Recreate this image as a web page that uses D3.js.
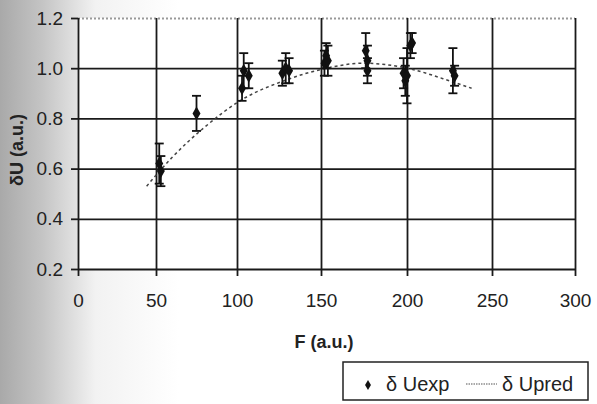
<!DOCTYPE html>
<meta charset="utf-8">
<style>

body {
  margin: 0;
  font-family: "Liberation Sans", Arial, sans-serif;
}

.grid line {
  stroke: #1a1a1a;
  stroke-width: 1.8;
}

.grid .domain {
  display: none;
}

.axis text {
  font-size: 19px;
  fill: #222;
}

.axis .domain {
  display: none;
}

.axis line {
  stroke: #1a1a1a;
  stroke-width: 1.8;
}

.errbar {
  stroke: #111;
  stroke-width: 1.8;
}

.pred {
  fill: none;
  stroke: #444;
  stroke-width: 1.5;
  stroke-dasharray: 3,3;
}

.title {
  font-size: 18px;
  font-weight: bold;
  fill: #222;
}

</style>
<body>
<script src="https://d3js.org/d3.v7.min.js"></script>
<script>

// experimental points: F, dU, error
var expF   = [52, 53, 75, 103, 104, 107, 127, 129, 131, 152, 153, 154, 176, 177, 177, 198, 199, 200, 202, 203, 227, 228];
var expU   = [0.62, 0.59, 0.82, 0.92, 0.99, 0.97, 0.98, 1.00, 0.99, 1.02, 1.05, 1.03, 1.07, 1.03, 0.99, 0.98, 0.95, 0.97, 1.09, 1.10, 0.99, 0.97];
var expErr = [0.08, 0.06, 0.07, 0.05, 0.07, 0.05, 0.05, 0.06, 0.05, 0.05, 0.05, 0.06, 0.07, 0.06, 0.05, 0.06, 0.06, 0.11, 0.05, 0.04, 0.09, 0.04];

// predicted curve
var predF = [44, 60, 80, 103, 128, 150, 175, 200, 227, 238];
var predU = [0.53, 0.645, 0.765, 0.875, 0.95, 0.995, 1.02, 1.0, 0.945, 0.92];

var xTicks = [0, 50, 100, 150, 200, 250, 300];
var yTicks = [0.2, 0.4, 0.6, 0.8, 1.0, 1.2];

var W = 597, H = 404;
var plotLeft = 78, plotRight = 575, plotTop = 18, plotBottom = 269;

var svg = d3.select("body").append("svg")
    .attr("width", W)
    .attr("height", H);

// scanned paper shading on the left
var grad = svg.append("defs").append("linearGradient")
    .attr("id", "shade")
    .attr("x1", "0").attr("x2", "1").attr("y1", "0").attr("y2", "0");
grad.append("stop").attr("offset", "0").attr("stop-color", "#a9a9a9");
grad.append("stop").attr("offset", "0.07").attr("stop-color", "#c4c4c4");
grad.append("stop").attr("offset", "0.16").attr("stop-color", "#f2f2f2");
grad.append("stop").attr("offset", "0.3").attr("stop-color", "#ffffff");

svg.append("rect")
    .attr("width", W)
    .attr("height", H)
    .attr("fill", "url(#shade)");

// scan is slightly uneven, so x uses the measured grid positions
var x = d3.scaleLinear()
    .domain(xTicks)
    .range([78, 156, 237, 321, 407, 492, 575]);

var y = d3.scaleLinear()
    .domain([0.2, 1.2])
    .range([plotBottom, plotTop]);

// white plot area
svg.append("rect")
    .attr("x", plotLeft).attr("y", plotTop)
    .attr("width", plotRight - plotLeft).attr("height", plotBottom - plotTop)
    .attr("fill", "#fff");

// grid lines
svg.append("g")
    .attr("class", "grid")
    .attr("transform", "translate(" + plotLeft + ",0)")
    .call(d3.axisLeft(y).tickValues(yTicks).tickSize(-(plotRight - plotLeft)).tickFormat(""))
  .selectAll("line")
    .filter(function(d) { return d === 1.2; })
    .style("stroke", "#999")
    .style("stroke-dasharray", "2,2");

svg.append("g")
    .attr("class", "grid")
    .attr("transform", "translate(0," + plotBottom + ")")
    .call(d3.axisBottom(x).tickValues(xTicks).tickSize(-(plotBottom - plotTop)).tickFormat(""));

// axes with outside ticks and labels
svg.append("g")
    .attr("class", "axis")
    .attr("transform", "translate(" + plotLeft + ",0)")
    .call(d3.axisLeft(y).tickValues(yTicks).tickSize(7).tickPadding(8).tickFormat(d3.format(".1f")));

svg.append("g")
    .attr("class", "axis")
    .attr("transform", "translate(0," + plotBottom + ")")
    .call(d3.axisBottom(x).tickValues(xTicks).tickSize(7).tickPadding(18));

// predicted curve
var line = d3.line()
    .curve(d3.curveMonotoneX)
    .x(function(d, i) { return x(predF[i]); })
    .y(function(d) { return y(d); });

svg.append("path")
    .datum(predU)
    .attr("class", "pred")
    .attr("d", line);

// error bars
var eb = svg.selectAll(".eb")
    .data(expU)
  .enter().append("g")
    .attr("class", "errbar");

eb.append("line")
    .attr("x1", function(d, i) { return x(expF[i]); })
    .attr("x2", function(d, i) { return x(expF[i]); })
    .attr("y1", function(d, i) { return y(d - expErr[i]); })
    .attr("y2", function(d, i) { return y(d + expErr[i]); });

eb.append("line")
    .attr("x1", function(d, i) { return x(expF[i]) - 4.5; })
    .attr("x2", function(d, i) { return x(expF[i]) + 4.5; })
    .attr("y1", function(d, i) { return y(d + expErr[i]); })
    .attr("y2", function(d, i) { return y(d + expErr[i]); });

eb.append("line")
    .attr("x1", function(d, i) { return x(expF[i]) - 4.5; })
    .attr("x2", function(d, i) { return x(expF[i]) + 4.5; })
    .attr("y1", function(d, i) { return y(d - expErr[i]); })
    .attr("y2", function(d, i) { return y(d - expErr[i]); });

// markers
var diamond = d3.symbol().type(d3.symbolDiamond).size(55);

svg.selectAll(".dot")
    .data(expU)
  .enter().append("path")
    .attr("class", "dot")
    .attr("d", diamond)
    .attr("fill", "#111")
    .attr("transform", function(d, i) { return "translate(" + x(expF[i]) + "," + y(d) + ")"; });

// axis titles
svg.append("text")
    .attr("class", "title")
    .attr("x", 324)
    .attr("y", 348)
    .attr("text-anchor", "middle")
    .text("F (a.u.)");

svg.append("text")
    .attr("class", "title")
    .attr("transform", "translate(23,150) rotate(-90)")
    .attr("text-anchor", "middle")
    .text("δU (a.u.)");

// legend
var lg = svg.append("g");

lg.append("rect")
    .attr("x", 343).attr("y", 362)
    .attr("width", 245).attr("height", 38)
    .attr("fill", "#fff")
    .attr("stroke", "#222")
    .attr("stroke-width", 1.5);

lg.append("path")
    .attr("d", d3.symbol().type(d3.symbolDiamond).size(30))
    .attr("fill", "#111")
    .attr("transform", "translate(368,385)");

lg.append("text")
    .attr("x", 386).attr("y", 391)
    .style("font-size", "20px")
    .style("fill", "#222")
    .text("δ Uexp");

lg.append("line")
    .attr("x1", 466).attr("x2", 497)
    .attr("y1", 384).attr("y2", 384)
    .attr("stroke", "#555")
    .attr("stroke-width", 1.2)
    .attr("stroke-dasharray", "1.5,1");

lg.append("text")
    .attr("x", 502).attr("y", 391)
    .style("font-size", "20px")
    .style("fill", "#222")
    .text("δ Upred");

</script>
